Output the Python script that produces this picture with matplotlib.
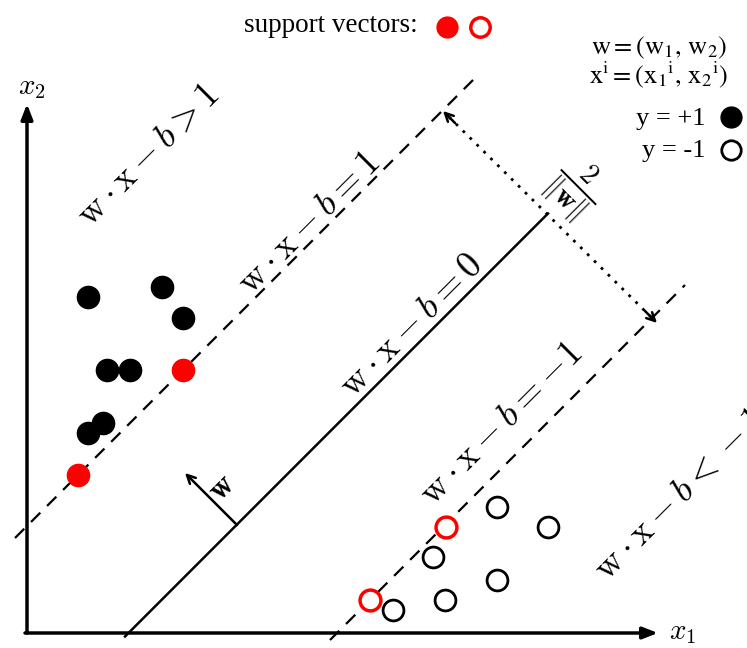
import matplotlib
matplotlib.use("Agg")
import matplotlib.pyplot as plt
import numpy as np

# ---- data (image-like coordinates: x to right, y downward) ----
pos_x = [88, 162, 183, 107, 130, 103, 88]
pos_y = [297, 287, 318, 370, 370, 423, 433]
neg_x = [497, 548, 433, 497, 445, 393]
neg_y = [507, 527, 557, 580, 600, 610]
sv_pos_x = [183, 78]
sv_pos_y = [370, 475]
sv_neg_x = [446, 370]
sv_neg_y = [527, 600]

# hyperplanes: x + y = c
c_upper, c_mid, c_lower = 553, 761.5, 970
upper_x = [15, 476]
mid_x = [125, 548]
lower_x = [330, 685]

labels = [r"$\mathrm{w}\cdot\mathrm{x}-b\mathbf{>}1$",
          r"$\mathrm{w}\cdot\mathrm{x}-b=1$",
          r"$\mathrm{w}\cdot\mathrm{x}-b=0$",
          r"$\mathrm{w}\cdot\mathrm{x}-b=-1$",
          r"$\mathrm{w}\cdot\mathrm{x}-b\mathbf{<}-1$"]
label_pos = [(148, 155), (309, 223), (411, 325), (501, 423), (680, 494)]

serif = ["Liberation Serif", "DejaVu Serif"]

fig = plt.figure(figsize=(7.47, 6.48), dpi=100)
ax = fig.add_axes([0, 0, 1, 1])
ax.set_xlim(0, 747)
ax.set_ylim(648, 0)
ax.axis("off")

# axes arrows
ahead = dict(arrowstyle="-|>,head_length=0.9,head_width=0.35", lw=2.5, color="black",
             shrinkA=0, shrinkB=0)
ax.annotate("", xy=(27, 104), xytext=(27, 633), arrowprops=ahead)
ax.annotate("", xy=(658, 633), xytext=(25, 633), arrowprops=ahead)
ax.text(32, 87, r"$x_2$", fontsize=21, math_fontfamily="cm", ha="center", va="center")
ax.text(683, 632, r"$x_1$", fontsize=21, math_fontfamily="cm", ha="center", va="center")

# hyperplanes
dash = (0, (5.9, 4.3))
ux = np.array(upper_x); ax.plot(ux, c_upper - ux, color="black", lw=1.6, ls=dash)
mx = np.array(mid_x); ax.plot(mx, c_mid - mx, color="black", lw=1.8)
lx = np.array(lower_x); ax.plot(lx, c_lower - lx, color="black", lw=1.6, ls=dash)

# points
ax.plot(pos_x, pos_y, "o", ms=16, color="black")
ax.plot(neg_x, neg_y, "o", ms=15, mfc="white", mec="black", mew=2)
ax.plot(sv_pos_x, sv_pos_y, "o", ms=16, color="red")
ax.plot(sv_neg_x, sv_neg_y, "o", ms=15, mfc="white", mec="red", mew=2.5)

# w arrow
small_head = dict(arrowstyle="->,head_length=0.6,head_width=0.3", lw=1.8, color="black",
                  shrinkA=0, shrinkB=0)
ax.annotate("", xy=(185, 473), xytext=(237, 525), arrowprops=small_head)
ax.text(222, 488, r"$\mathbf{w}$", fontsize=23, math_fontfamily="cm", rotation=45,
        ha="center", va="center", rotation_mode="anchor")

# margin dotted arrow
ax.plot([449, 651], [117, 317], color="black", lw=2, ls=(0, (1, 2.5)))
ax.annotate("", xy=(443, 111), xytext=(455, 123), arrowprops=small_head)
ax.annotate("", xy=(657, 323), xytext=(645, 311), arrowprops=small_head)
ax.text(575, 189, r"$\frac{2}{\|\mathbf{w}\|}$", fontsize=29, math_fontfamily="cm", rotation=-45,
        ha="center", va="center", rotation_mode="anchor")

# hyperplane labels
lab = dict(fontsize=26.5, math_fontfamily="cm", rotation=45, ha="center", va="center",
           rotation_mode="anchor")
for s, (px, py) in zip(labels, label_pos):
    ax.text(px, py, s, **lab)

# top legend
ax.text(331, 25, "support vectors:", fontsize=19.5, family=serif, ha="center", va="center")
ax.plot([447], [27], "o", ms=15, color="red")
ax.plot([480], [27], "o", ms=14, mfc="white", mec="red", mew=2.5)

# right legend
ax.text(659, 48, r"$\mathrm{w} = (\mathrm{w}_1,\, \mathrm{w}_2)$", fontsize=19,
        math_fontfamily="stix", ha="center", va="center")
ax.text(659, 75, r"$\mathrm{x}^\mathrm{i} = (\mathrm{x}_1{}^\mathrm{i},\, \mathrm{x}_2{}^\mathrm{i})$", fontsize=19,
        math_fontfamily="stix", ha="center", va="center")
ax.text(706, 119, "y = +1", fontsize=19, family=serif, ha="right", va="center")
ax.text(706, 151, "y = -1", fontsize=19, family=serif, ha="right", va="center")
ax.plot([731], [117], "o", ms=15, color="black")
ax.plot([731], [150], "o", ms=14, mfc="white", mec="black", mew=2)

fig.savefig("out.png", dpi=100)
